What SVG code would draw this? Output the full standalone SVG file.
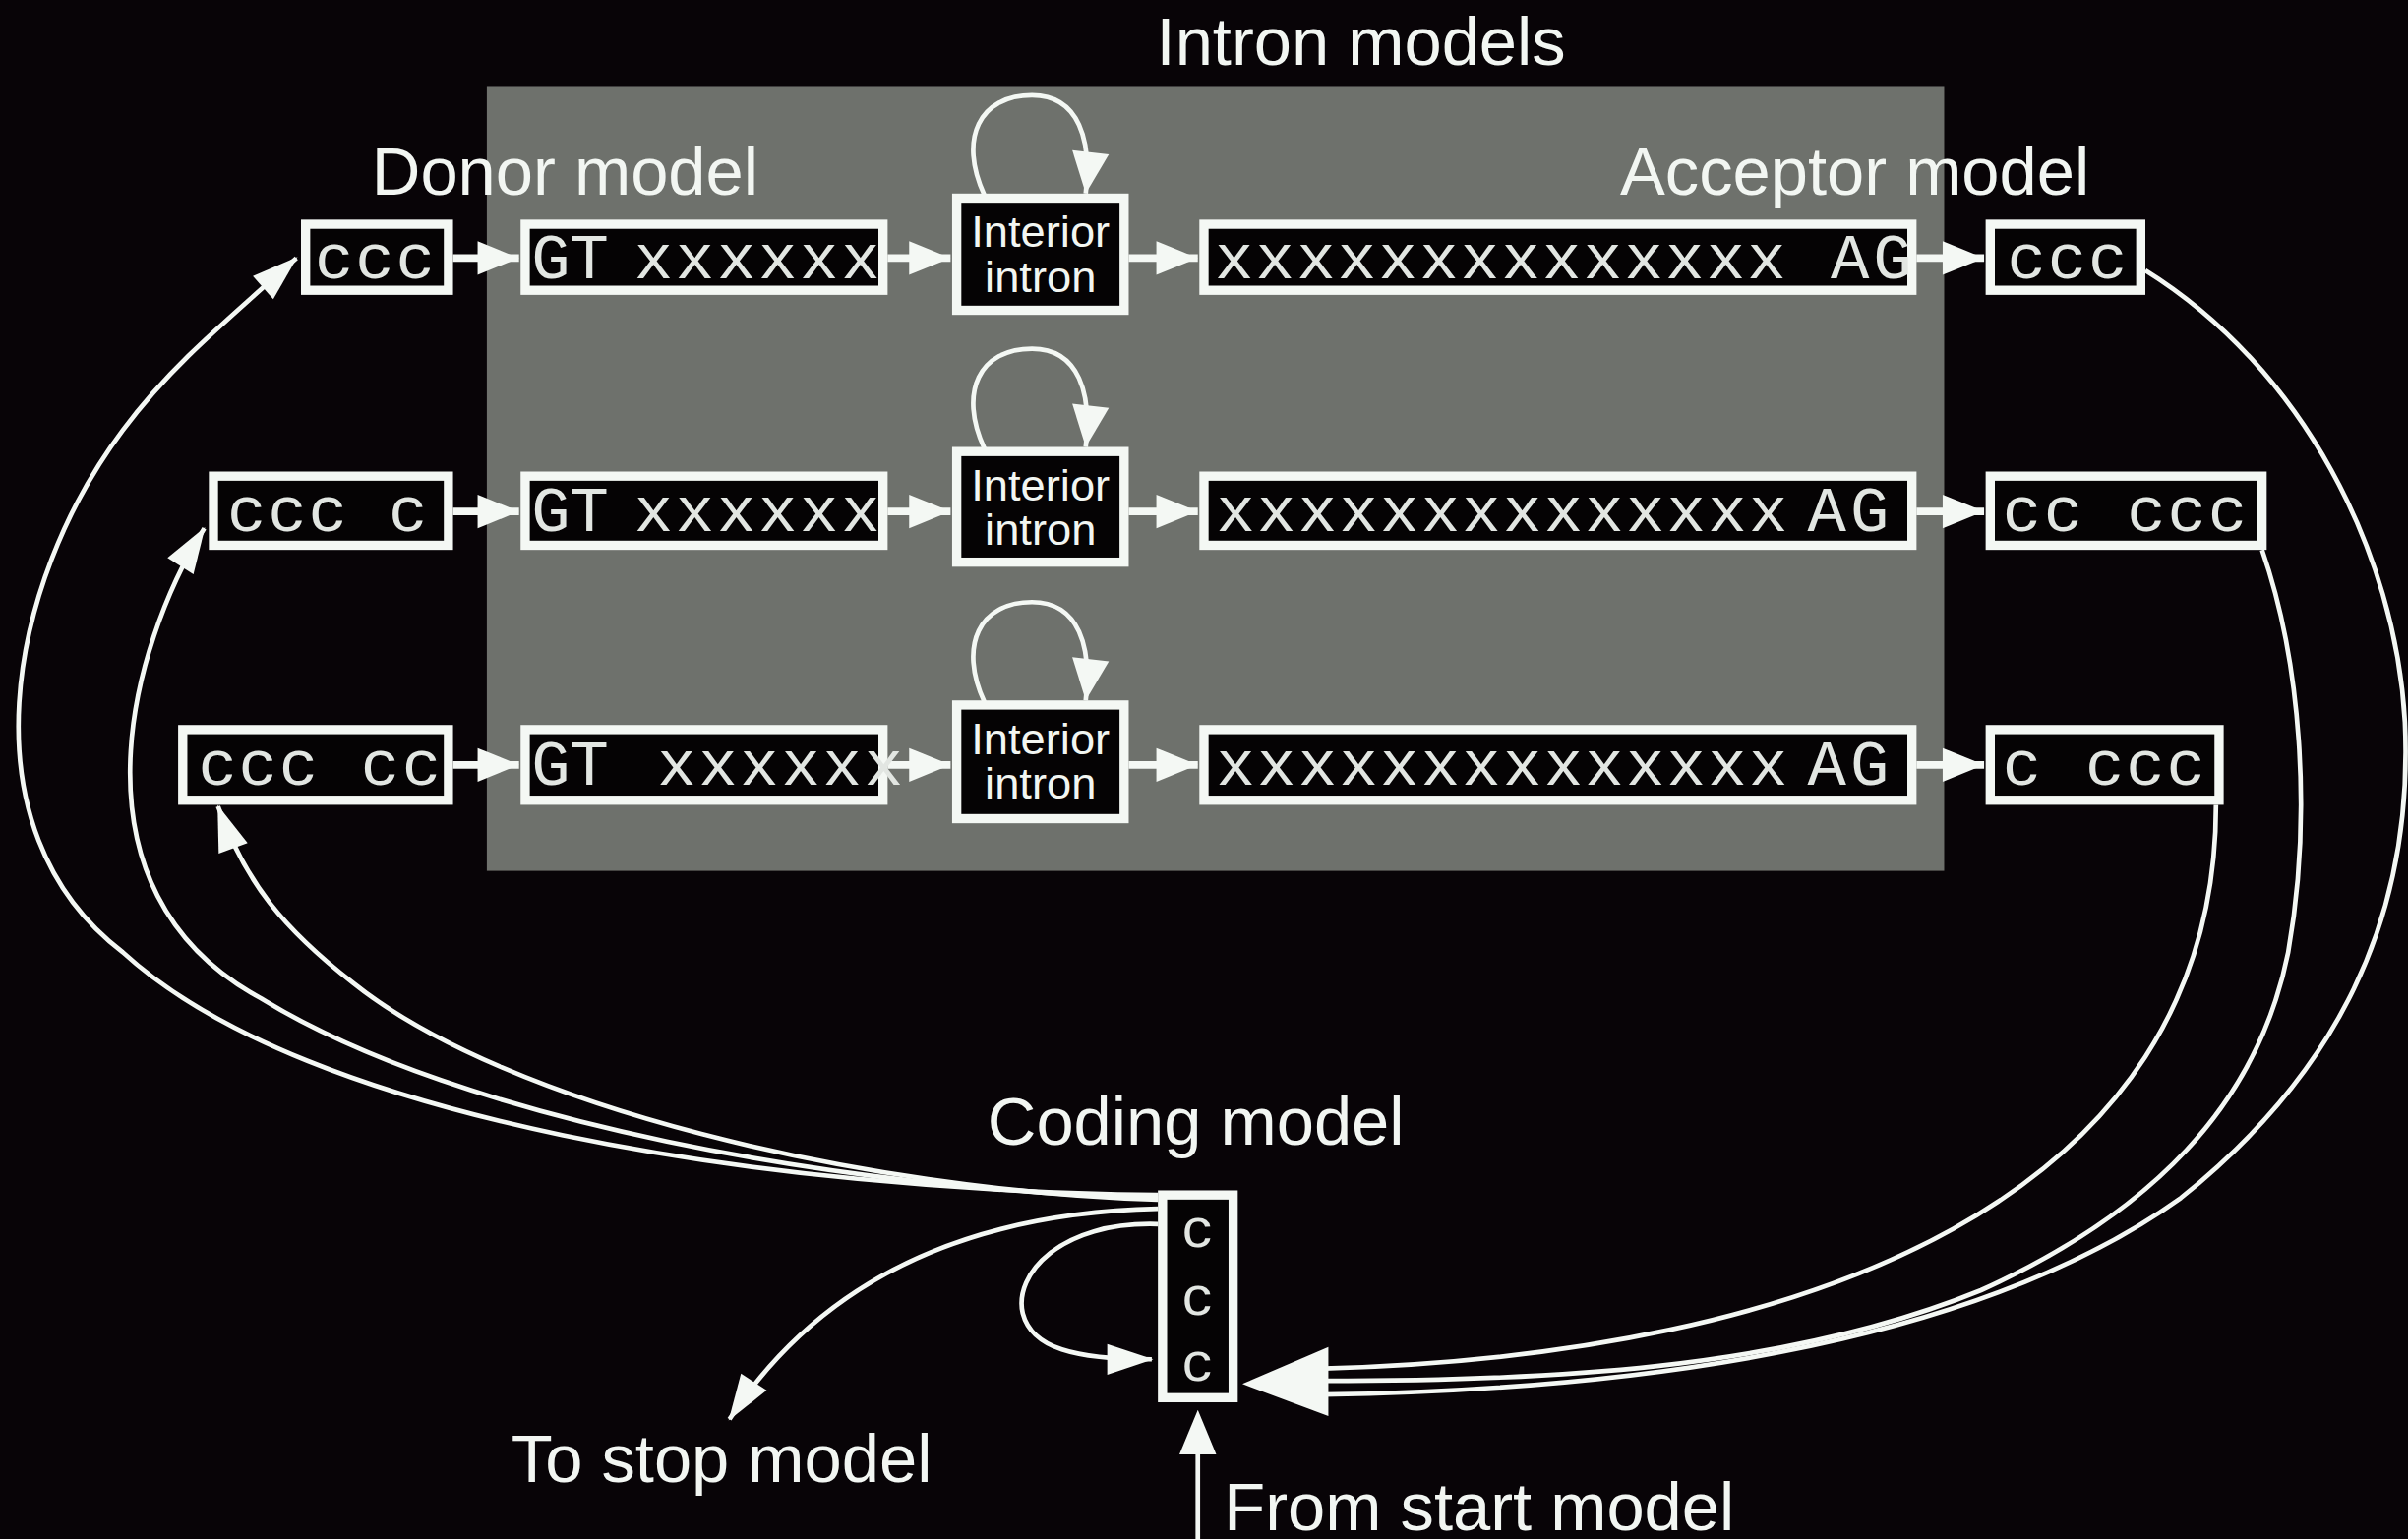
<svg xmlns="http://www.w3.org/2000/svg" width="2448" height="1565" viewBox="0 0 2448 1565">
<defs>
<style>
.bx{fill:#050304;stroke:#f4f8f4;stroke-width:6}
.mono{font-family:'Liberation Mono','DejaVu Sans Mono',monospace;font-size:42px;fill:#e2e6e2}
.cm{font-family:'Liberation Mono','DejaVu Sans Mono',monospace;font-size:36px;fill:#e2e6e2;text-anchor:middle}
.lbl{font-family:'Liberation Sans',Arial,sans-serif;font-size:44px;fill:#f2f6f2}
.intr{font-family:'Liberation Sans',Arial,sans-serif;font-size:29px;fill:#f2f6f2;text-anchor:middle}
.sh{stroke:#f4f8f4;stroke-width:5;fill:none;marker-end:url(#bh)}
.cv{stroke:#f4f8f4;stroke-width:3;fill:none}
.ca{marker-end:url(#ch)}
.la{marker-end:url(#lh)}
.wf{fill:#f4f8f4}
</style>
<marker id="bh" markerUnits="userSpaceOnUse" markerWidth="30" markerHeight="26" refX="27" refY="11" orient="auto" overflow="visible"><path d="M0,0 L27,11 L0,22 z" fill="#f4f8f4"/></marker>
<marker id="lh" markerUnits="userSpaceOnUse" markerWidth="30" markerHeight="26" refX="27" refY="12" orient="auto" overflow="visible"><path d="M0,0 L27,12 L0,24 z" fill="#f4f8f4"/></marker>
<marker id="ch" markerUnits="userSpaceOnUse" markerWidth="32" markerHeight="24" refX="29" refY="10" orient="auto" overflow="visible"><path d="M0,0 L30,10 L0,20 z" fill="#f4f8f4"/></marker>
</defs>
<rect x="0" y="0" width="2448" height="1565" fill="#080407"/>
<g transform="scale(1.5612 1.5619)">
<rect id="intron-region" x="317" y="56" width="949" height="511" fill="#6e716c"/>
<text class="lbl" x="753" y="42">Intron models</text>
<text class="lbl" x="242" y="127">Donor model</text>
<text class="lbl" x="1055" y="127">Acceptor model</text>
<text class="lbl" x="643" y="745">Coding model</text>
<text class="lbl" x="333" y="965">To stop model</text>
<text class="lbl" x="797" y="996">From start model</text>

<g id="connectors">
<path class="sh" d="M295,168 H338"/>
<path class="sh" d="M578,168 H619"/>
<path class="sh" d="M735,168 H780"/>
<path class="sh" d="M1248,168 H1292"/>
<path class="sh" d="M295,333 H338"/>
<path class="sh" d="M578,333 H619"/>
<path class="sh" d="M735,333 H780"/>
<path class="sh" d="M1248,333 H1292"/>
<path class="sh" d="M295,498 H338"/>
<path class="sh" d="M578,498 H619"/>
<path class="sh" d="M735,498 H780"/>
<path class="sh" d="M1248,498 H1292"/>
<path class="cv la" d="M641,127 C624,90 638,62 672,62 C703,62 711,92 707,126"/>
<path class="cv la" d="M641,292 C624,255 638,227 672,227 C703,227 711,257 707,291"/>
<path class="cv la" d="M641,457 C624,420 638,392 672,392 C703,392 711,422 707,456"/>
<path class="cv ca" d="M754,778 C500,775 200,730 80,620 C-25,540 5,380 80,280 C110,240 140,215 193,168"/>
<path class="cv ca" d="M754,780 C550,775 300,730 170,650 C40,580 85,420 133,344"/>
<path class="cv ca" d="M754,781 C560,775 330,720 230,640 C185,605 160,575 142,525"/>
<path class="cv ca" d="M754,787 C620,790 530,840 475,924"/>
<path class="cv ca" d="M754,797 C690,795 660,830 666,855 C672,878 700,885 750,885"/>
<path class="cv" d="M1397,176 C1500,240 1560,360 1566,470 C1572,600 1520,700 1420,780 C1280,880 1050,905 862,908"/>
<path class="cv" d="M1473,358 C1498,430 1506,530 1490,620 C1470,720 1400,790 1290,840 C1160,893 1000,899 862,899"/>
<path class="cv" d="M1443,524 C1443,780 1180,882 862,891"/>
<polygon class="wf" points="809,901 865,877 865,922"/>
<path class="cv" d="M780,1002 V944"/>
<polygon class="wf" points="780,918 768,947 792,947"/>
</g>

<g id="donor1"><rect class="bx" x="199" y="146" width="93" height="43"/><text class="mono" x="205" y="181" textLength="78" lengthAdjust="spacing">ccc</text></g>
<g id="gt1"><rect class="bx" x="342" y="146" width="233" height="43"/><text class="mono" x="346" y="181">GT</text><text class="mono" x="413" y="181" textLength="160" lengthAdjust="spacing">xxxxxx</text></g>
<g id="intron1"><rect class="bx" x="623" y="129" width="109" height="73"/><text class="intr" x="677.5" y="161">Interior</text><text class="intr" x="677.5" y="190">intron</text></g>
<g id="ag1"><rect class="bx" x="784" y="146" width="461" height="43"/><text class="mono" x="791" y="181" textLength="372" lengthAdjust="spacing">xxxxxxxxxxxxxx</text><text class="mono" x="1192" y="181" textLength="53" lengthAdjust="spacing">AG</text></g>
<g id="acc1"><rect class="bx" x="1296" y="146" width="98" height="43"/><text class="mono" x="1307" y="181" textLength="78" lengthAdjust="spacing">ccc</text></g>

<g id="donor2"><rect class="bx" x="139" y="310" width="153" height="45"/><text class="mono" x="148" y="346" textLength="78" lengthAdjust="spacing">ccc</text><text class="mono" x="253" y="346" textLength="26" lengthAdjust="spacing">c</text></g>
<g id="gt2"><rect class="bx" x="342" y="310" width="233" height="45"/><text class="mono" x="346" y="346">GT</text><text class="mono" x="413" y="346" textLength="160" lengthAdjust="spacing">xxxxxx</text></g>
<g id="intron2"><rect class="bx" x="623" y="294" width="109" height="72"/><text class="intr" x="677.5" y="326">Interior</text><text class="intr" x="677.5" y="355">intron</text></g>
<g id="ag2"><rect class="bx" x="784" y="310" width="461" height="45"/><text class="mono" x="792" y="346" textLength="372" lengthAdjust="spacing">xxxxxxxxxxxxxx</text><text class="mono" x="1177" y="346" textLength="53" lengthAdjust="spacing">AG</text></g>
<g id="acc2"><rect class="bx" x="1296" y="310" width="177" height="45"/><text class="mono" x="1304" y="346" textLength="52" lengthAdjust="spacing">cc</text><text class="mono" x="1385" y="346" textLength="78" lengthAdjust="spacing">ccc</text></g>

<g id="donor3"><rect class="bx" x="119" y="475" width="173" height="46"/><text class="mono" x="129" y="511" textLength="78" lengthAdjust="spacing">ccc</text><text class="mono" x="235" y="511" textLength="52" lengthAdjust="spacing">cc</text></g>
<g id="gt3"><rect class="bx" x="342" y="475" width="233" height="46"/><text class="mono" x="346" y="511">GT</text><text class="mono" x="428" y="511" textLength="160" lengthAdjust="spacing">xxxxxx</text></g>
<g id="intron3"><rect class="bx" x="623" y="459" width="109" height="74"/><text class="intr" x="677.5" y="491">Interior</text><text class="intr" x="677.5" y="520">intron</text></g>
<g id="ag3"><rect class="bx" x="784" y="475" width="461" height="46"/><text class="mono" x="792" y="511" textLength="372" lengthAdjust="spacing">xxxxxxxxxxxxxx</text><text class="mono" x="1177" y="511" textLength="53" lengthAdjust="spacing">AG</text></g>
<g id="acc3"><rect class="bx" x="1296" y="475" width="149" height="46"/><text class="mono" x="1304" y="511" textLength="26" lengthAdjust="spacing">c</text><text class="mono" x="1358" y="511" textLength="78" lengthAdjust="spacing">ccc</text></g>

<g id="coding"><rect class="bx" x="757" y="778" width="46" height="132"/><text class="cm" x="780" y="812">c</text><text class="cm" x="780" y="856">c</text><text class="cm" x="780" y="899">c</text></g>
</g>
</svg>
